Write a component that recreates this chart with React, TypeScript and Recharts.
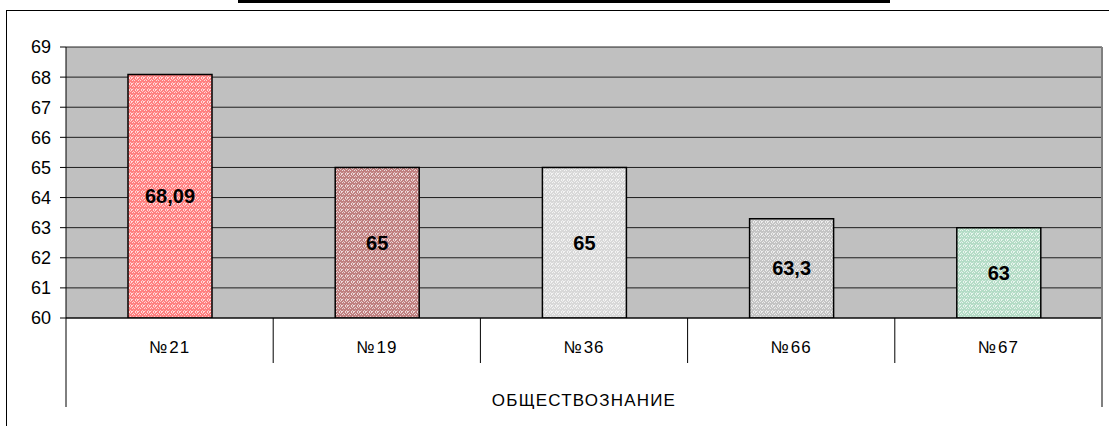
import { BarChart, Bar, XAxis, YAxis, CartesianGrid, Cell, LabelList, Label } from "recharts";

const schools = ["№21", "№19", "№36", "№66", "№67"];
const scores = [68.09, 65, 65, 63.3, 63];
const barColors = ["#ff8080", "#c08080", "#d8d8d8", "#c4c4c4", "#b4dcc6"];
const yTicks = [60, 61, 62, 63, 64, 65, 66, 67, 68, 69];
const subject = "ОБЩЕСТВОЗНАНИЕ";

const data = schools.map((name, i) => ({ name, value: scores[i] }));

const FONT = "'Liberation Sans', Arial, sans-serif";

function fmt(v: number) {
  return String(v).replace(".", ",");
}

function SchoolTick(props: any) {
  const { x, y, payload, index } = props;
  const half = payload?.offset ?? 103.8;
  const last = index === schools.length - 1;
  const label = String(payload.value);
  return (
    <g>
      <line
        x1={x - half}
        x2={x - half}
        y1={y}
        y2={y + (index === 0 ? 89 : 45)}
        stroke="#000"
      />
      {last && <line x1={x + half} x2={x + half} y1={y} y2={y + 89} stroke="#808080" strokeWidth={2} />}
      <text x={x} y={y + 35} textAnchor="middle" fontFamily={FONT} fontSize={17} fill="#000">
        <tspan>{label.slice(0, 1)}</tspan>
        <tspan dx={2} letterSpacing={1}>
          {label.slice(1)}
        </tspan>
      </text>
    </g>
  );
}

export default function App() {
  return (
    <div style={{ position: "absolute", left: 0, top: 0, width: 1109, height: 426, background: "#fff" }}>
      <div style={{ position: "absolute", left: 238, top: 0, width: 652, height: 3, background: "#000" }} />
      <div
        style={{
          position: "absolute",
          left: 6,
          top: 10,
          width: 1110,
          height: 430,
          borderTop: "1px solid #000",
          borderLeft: "1px solid #000",
        }}
      />
      <div style={{ position: "absolute", left: 0, top: 0 }}>
        <BarChart
          width={1109}
          height={426}
          data={data}
          margin={{ top: 47, right: 5, bottom: 8, left: 0 }}
          barSize={84}
        >
          <defs>
            {barColors.map((c, i) => (
              <pattern key={i} id={`weave${i}`} width={6} height={6} patternUnits="userSpaceOnUse">
                <rect width={6} height={6} fill={c} />
                <path
                  d="M0 3 L1.5 1.5 L3 3 M3 6 L4.5 4.5 L6 6 M3 0 L4.5 1.5 M1.5 4.5 L0 6 M4.5 1.5 L6 0"
                  stroke="#fff"
                  strokeWidth={0.9}
                  strokeOpacity={0.8}
                  fill="none"
                />
              </pattern>
            ))}
          </defs>
          <CartesianGrid vertical={false} fill="#c0c0c0" stroke="#000" strokeOpacity={0.85} />
          <XAxis
            dataKey="name"
            height={100}
            interval={0}
            tickLine={false}
            tickSize={0}
            tickMargin={0}
            axisLine={{ stroke: "#000" }}
            tick={<SchoolTick />}
          >
            <Label
              value={subject}
              position="insideBottom"
              offset={12}
              style={{ fontFamily: FONT, fontSize: 17, fill: "#000", letterSpacing: 1.2 }}
            />
          </XAxis>
          <YAxis
            domain={[60, 69]}
            ticks={yTicks}
            interval={0}
            width={66}
            allowDataOverflow
            axisLine={{ stroke: "#000" }}
            tickLine={{ stroke: "#000" }}
            tickSize={6}
            tickMargin={9}
            tick={{ fill: "#000", fontSize: 18, fontFamily: FONT }}
          />
          <YAxis
            yAxisId="border"
            orientation="right"
            width={2}
            tick={false}
            tickLine={false}
            axisLine={{ stroke: "#808080", strokeWidth: 2 }}
          />
          <Bar dataKey="value" stroke="#000" strokeWidth={1.5} isAnimationActive={false}>
            {data.map((d, i) => (
              <Cell key={d.name} fill={`url(#weave${i})`} />
            ))}
            <LabelList
              dataKey="value"
              position="center"
              formatter={(v: any) => fmt(Number(v))}
              style={{ fontFamily: FONT, fontSize: 20, fontWeight: 700, fill: "#000" }}
            />
          </Bar>
        </BarChart>
      </div>
    </div>
  );
}
